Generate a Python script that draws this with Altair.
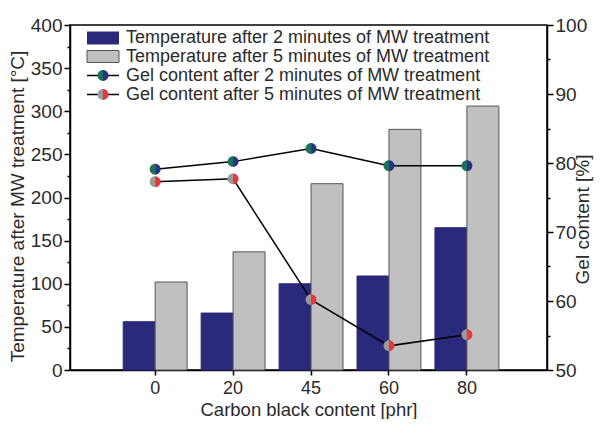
import altair as alt
import pandas as pd

categories = ["0", "20", "45", "60", "80"]
series = ["2 min", "5 min"]
temp_2min = [56, 66, 100, 109, 165]
temp_5min = [102, 137, 216, 279, 306]
gel_2min = [79.1, 80.2, 82.1, 79.6, 79.6]
gel_5min = [77.3, 77.7, 60.2, 53.5, 55.1]
legend_labels = [
    "Temperature after 2 minutes of MW treatment",
    "Temperature after 5 minutes of MW treatment",
    "Gel content after 2 minutes of MW treatment",
    "Gel content after 5 minutes of MW treatment",
]
temp_ticks = list(range(0, 401, 25))
gel_ticks = list(range(50, 101, 5))

NAVY = "#2a2a7c"
GREY = "#c0c0c0"
GREEN = "#1c7258"
NAVY2 = "#283282"
RED = "#e8363a"
MGREY = "#9a9a9a"
TXT = "#2a2a2a"
FONT = "Liberation Sans"

LEFT_HALF = "M0,-1 A1,1 0 0,0 0,1 Z"
RIGHT_HALF = "M0,-1 A1,1 0 0,1 0,1 Z"
MSIZE = 120

bars_df = pd.DataFrame({
    "cb": categories * 2,
    "series": [series[0]] * 5 + [series[1]] * 5,
    "temp": temp_2min + temp_5min,
})
gel_df = pd.DataFrame({
    "cb": categories * 2,
    "series": [series[0]] * 5 + [series[1]] * 5,
    "gel": gel_2min + gel_5min,
})

xscale = alt.Scale(type="band", domain=categories, paddingInner=0.18, paddingOuter=0.65, align=0.525)
xaxis = alt.Axis(title="Carbon black content [phr]", labelAngle=0, tickSize=5,
                 labelPadding=4, titlePadding=3, labelFontSize=18, titleFontSize=18.5)
x_enc = alt.X("cb:N", scale=xscale, sort=categories, axis=xaxis)

left_axis = alt.Axis(
    title="Temperature after MW treatment [°C]",
    values=temp_ticks,
    labelExpr="datum.value % 50 === 0 ? datum.label : ''",
    tickSize={"condition": {"test": "datum.value % 50 === 0", "value": 6}, "value": 3},
    labelPadding=2,
    titlePadding=3,
    titleY=181,
)
right_axis = alt.Axis(
    title="Gel content [%]",
    orient="right",
    values=gel_ticks,
    labelExpr="datum.value % 10 === 0 ? datum.label : ''",
    tickSize={"condition": {"test": "datum.value % 10 === 0", "value": 6}, "value": 3},
    labelPadding=2,
    titlePadding=6,
    titleAngle=270,
    titleY=194,
)

bars = alt.Chart(bars_df).mark_bar(strokeWidth=1).encode(
    x=x_enc,
    xOffset=alt.XOffset("series:N", sort=series, scale=alt.Scale(paddingInner=0, paddingOuter=0)),
    y=alt.Y("temp:Q", scale=alt.Scale(domain=[0, 400], nice=False), axis=left_axis),
    color=alt.Color("series:N", scale=alt.Scale(domain=series, range=[NAVY, GREY]), legend=None),
    stroke=alt.Stroke("series:N", scale=alt.Scale(domain=series, range=[NAVY, "#555555"]), legend=None),
)

gel_y = alt.Y("gel:Q", scale=alt.Scale(domain=[50, 100], nice=False), axis=right_axis)

line = alt.Chart(gel_df).mark_line(color="black", strokeWidth=1.5).encode(
    x=x_enc, y=gel_y, detail="series:N"
)

def halves(s, lcol, rcol):
    base = alt.Chart(gel_df).transform_filter(alt.datum.series == s)
    l = base.mark_point(shape=LEFT_HALF, filled=True, size=MSIZE, opacity=1, color=lcol).encode(x=x_enc, y=gel_y)
    r = base.mark_point(shape=RIGHT_HALF, filled=True, size=MSIZE, opacity=1, color=rcol).encode(x=x_enc, y=gel_y)
    return [l, r]

gel_layer = alt.layer(line, *halves(series[0], GREEN, NAVY2), *halves(series[1], MGREY, RED))

one = pd.DataFrame({"k": [0]})
rows_y = [13, 31.5, 50.5, 69.5]
sw_x0, sw_x1, txt_x = 17, 49, 56

legend_layers = [
    alt.Chart(one).mark_rect(color=NAVY).encode(
        x=alt.value(sw_x0), x2=alt.value(sw_x1), y=alt.value(rows_y[0] - 6.5), y2=alt.value(rows_y[0] + 6.5)),
    alt.Chart(one).mark_rect(color=GREY, stroke="#555555", strokeWidth=1).encode(
        x=alt.value(sw_x0), x2=alt.value(sw_x1), y=alt.value(rows_y[1] - 6), y2=alt.value(rows_y[1] + 6)),
]
for yy, (lc, rc) in zip(rows_y[2:], [(GREEN, NAVY2), (MGREY, RED)]):
    legend_layers.append(alt.Chart(one).mark_rule(color="black", strokeWidth=1.5).encode(
        x=alt.value(sw_x0), x2=alt.value(sw_x1), y=alt.value(yy)))
    legend_layers.append(alt.Chart(one).mark_point(shape=LEFT_HALF, filled=True, size=MSIZE, opacity=1, color=lc).encode(
        x=alt.value((sw_x0 + sw_x1) / 2), y=alt.value(yy)))
    legend_layers.append(alt.Chart(one).mark_point(shape=RIGHT_HALF, filled=True, size=MSIZE, opacity=1, color=rc).encode(
        x=alt.value((sw_x0 + sw_x1) / 2), y=alt.value(yy)))
for yy, lab in zip(rows_y, legend_labels):
    legend_layers.append(alt.Chart(one).mark_text(align="left", baseline="middle", fontSize=18, font=FONT, color=TXT).encode(
        x=alt.value(txt_x), y=alt.value(yy), text=alt.value(lab)))

chart = alt.layer(bars, gel_layer, *legend_layers).resolve_scale(y="independent").properties(
    width=477, height=345,
    autosize=alt.AutoSizeParams(type="none"),
    padding={"left": 62, "top": 17, "right": 48, "bottom": 49},
).configure_view(stroke="black", strokeWidth=1.5).configure_axis(
    grid=False, domainColor="black", domainWidth=1.5, tickColor="black", tickWidth=1.5,
    labelFont=FONT, labelFontSize=19, labelColor=TXT,
    titleFont=FONT, titleFontSize=19, titleFontWeight="normal", titleColor=TXT,
)

chart.save("out.html", embed_options={"renderer": "svg", "actions": False})
